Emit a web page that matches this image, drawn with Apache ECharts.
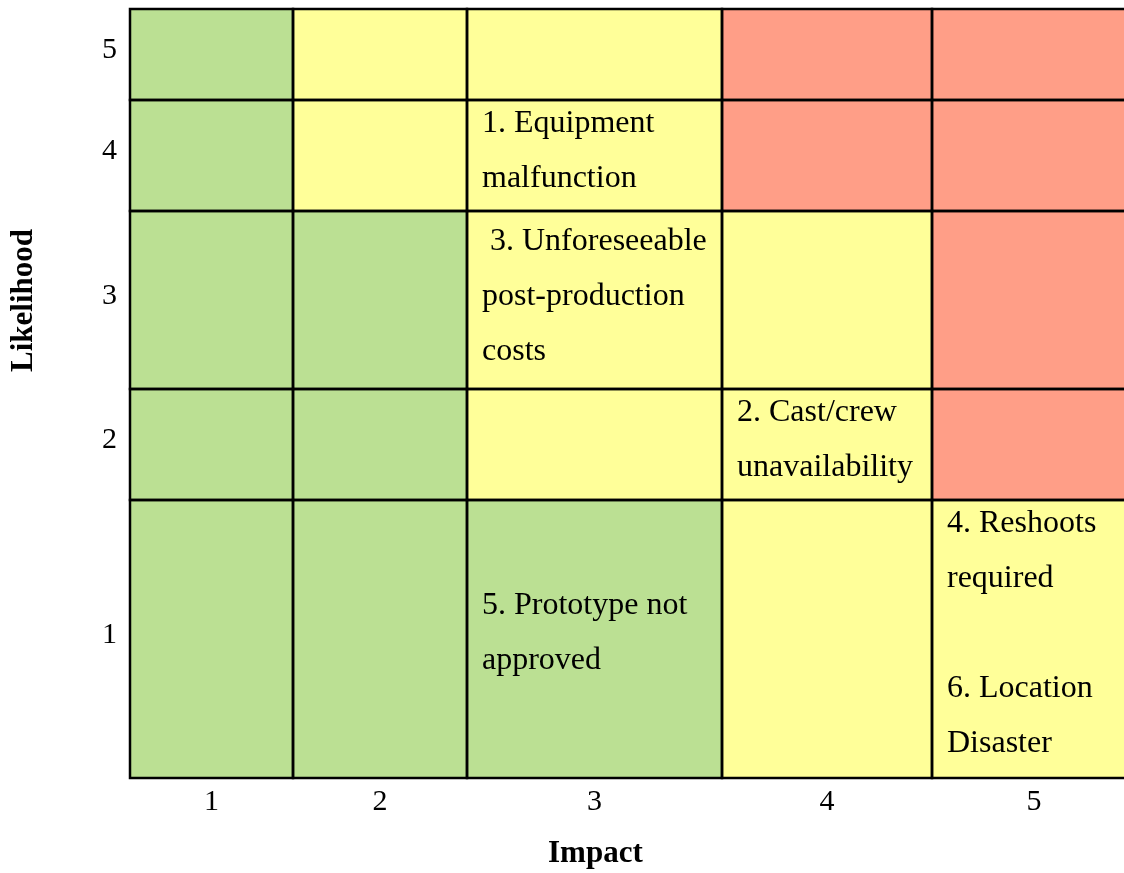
<!DOCTYPE html>
<html>
<head>
<meta charset="utf-8">
<style>
  html, body { margin: 0; padding: 0; background: #fff; }
  #chart { width: 1124px; height: 873px; }
</style>
<script src="https://cdn.jsdelivr.net/npm/echarts@6/dist/echarts.min.js"></script>
</head>
<body>
<div id="chart"></div>
<script>
// Axis tick labels
const impactLabels = ['1', '2', '3', '4', '5'];
const likelihoodLabels = ['1', '2', '3', '4', '5'];

// Risk level of every cell, one row per likelihood (1 at the bottom), one entry per impact
const levelRows = [
  ['low', 'low', 'low', 'medium', 'medium'],      // likelihood 1
  ['low', 'low', 'medium', 'medium', 'high'],     // likelihood 2
  ['low', 'low', 'medium', 'medium', 'high'],     // likelihood 3
  ['low', 'medium', 'medium', 'high', 'high'],    // likelihood 4
  ['low', 'medium', 'medium', 'high', 'high']     // likelihood 5
];

// Identified risks placed by impact and likelihood
const riskText = [
  '1. Equipment\nmalfunction',
  '2. Cast/crew\nunavailability',
  ' 3. Unforeseeable\npost-production\ncosts',
  '4. Reshoots\nrequired',
  '5. Prototype not\napproved',
  '6. Location\nDisaster'
];
const riskImpact = [3, 4, 3, 5, 3, 5];
const riskLikelihood = [4, 2, 3, 1, 1, 1];

// ---- layout of the table (column widths / row heights in pixels) ----
const colWidths = [163, 174, 255, 210, 204];
const rowHeights = [278, 111, 178, 111, 91];   // bottom row first
const middleAlignedCells = ['3,1'];
const extraTopPadding = { '3,3': 7 };
const levelColors = { low: '#BBE093', medium: '#FFFF99', high: '#FF9E87' };
const serif = "'Liberation Serif', 'Times New Roman', serif";

const xEdges = [0];
colWidths.forEach(w => xEdges.push(xEdges[xEdges.length - 1] + w));
const yEdges = [0];
rowHeights.forEach(h => yEdges.push(yEdges[yEdges.length - 1] + h));
const xCenters = impactLabels.map((_, i) => (xEdges[i] + xEdges[i + 1]) / 2);
const yCenters = likelihoodLabels.map((_, i) => (yEdges[i] + yEdges[i + 1]) / 2);

// One record per cell: [impact index, likelihood index, level, text]
const cells = [];
levelRows.forEach((row, r) => {
  row.forEach((level, c) => {
    const texts = [];
    riskText.forEach((t, k) => {
      if (riskImpact[k] === c + 1 && riskLikelihood[k] === r + 1) texts.push(t);
    });
    cells.push([c, r, level, texts.join('\n\n')]);
  });
});

function cellRect(api) {
  const c = api.value(0), r = api.value(1);
  const p0 = api.coord([xEdges[c], yEdges[r + 1]]);
  const p1 = api.coord([xEdges[c + 1], yEdges[r]]);
  return { x: p0[0], y: p0[1], width: p1[0] - p0[0], height: p1[1] - p0[1] };
}

const chart = echarts.init(document.getElementById('chart'));
chart.setOption({
  animation: false,
  backgroundColor: '#ffffff',
  grid: {
    left: 130, top: 9,
    width: xEdges[xEdges.length - 1],
    height: yEdges[yEdges.length - 1],
    outerBoundsMode: 'none',
    containLabel: false
  },
  xAxis: {
    type: 'value',
    min: 0,
    max: xEdges[xEdges.length - 1],
    axisLine: { show: false },
    axisTick: { show: false },
    splitLine: { show: false },
    axisLabel: {
      customValues: xCenters,
      formatter: v => impactLabels[xCenters.findIndex(x => Math.abs(x - v) < 1e-6)],
      fontFamily: serif,
      fontSize: 30,
      color: '#000',
      margin: 9
    }
  },
  yAxis: {
    type: 'value',
    min: 0,
    max: yEdges[yEdges.length - 1],
    axisLine: { show: false },
    axisTick: { show: false },
    splitLine: { show: false },
    axisLabel: {
      customValues: yCenters,
      formatter: v => likelihoodLabels[yCenters.findIndex(y => Math.abs(y - v) < 1e-6)],
      fontFamily: serif,
      fontSize: 30,
      color: '#000',
      margin: 13,
      verticalAlign: 'bottom',
      lineHeight: 8
    }
  },
  graphic: [
    {
      type: 'text', left: 548, top: 838,
      style: { text: 'Impact', font: 'bold 31px ' + serif, fill: '#000' }
    },
    {
      type: 'text', x: 8, y: 372, rotation: Math.PI / 2,
      style: { text: 'Likelihood', font: 'bold 31px ' + serif, fill: '#000' }
    }
  ],
  series: [
    {
      type: 'custom',
      data: cells,
      clip: false,
      z: 1,
      renderItem: (params, api) => ({
        type: 'rect',
        shape: cellRect(api),
        style: { fill: levelColors[cells[params.dataIndex][2]] }
      })
    },
    {
      type: 'custom',
      data: cells,
      clip: false,
      z: 2,
      renderItem: (params, api) => {
        const rect = cellRect(api);
        const cell = cells[params.dataIndex];
        const key = (cell[0] + 1) + ',' + (cell[1] + 1);
        const middle = middleAlignedCells.includes(key);
        const extra = extraTopPadding[key] || 0;
        return {
          type: 'group',
          children: [
            {
              type: 'rect',
              shape: rect,
              style: { fill: 'none', stroke: '#000', lineWidth: 2.5 }
            },
            {
              type: 'text',
              x: rect.x + 15,
              y: middle ? rect.y + rect.height / 2 - 6 : rect.y - 4 + extra,
              style: {
                text: cell[3],
                font: '32px ' + serif,
                fill: '#000',
                lineHeight: 55,
                verticalAlign: middle ? 'middle' : 'top'
              }
            }
          ]
        };
      }
    }
  ]
});
</script>
</body>
</html>
